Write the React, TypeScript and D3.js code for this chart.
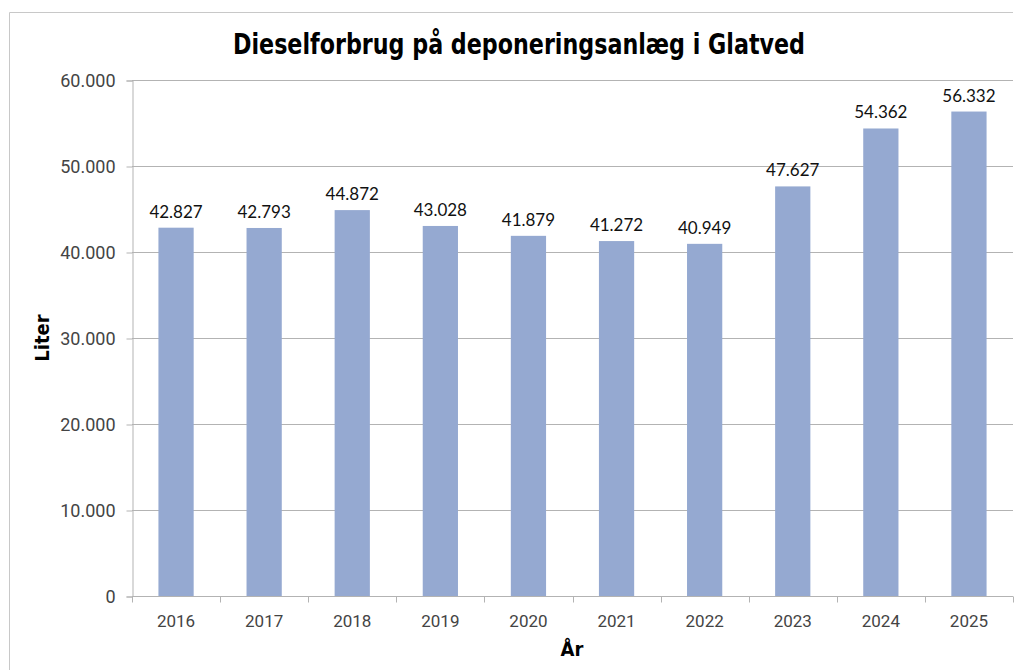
import { useEffect, useRef } from 'react';
import * as d3 from 'd3';

const years = ['2016', '2017', '2018', '2019', '2020', '2021', '2022', '2023', '2024', '2025'];
const liters = [42827, 42793, 44872, 43028, 41879, 41272, 40949, 47627, 54362, 56332];
const yTicks = [0, 10000, 20000, 30000, 40000, 50000, 60000];

const title = 'Dieselforbrug på deponeringsanlæg i Glatved';
const yTitle = 'Liter';
const xTitle = 'År';

const width = 1017;
const height = 670;
const margin = { top: 80, right: 4, bottom: 74, left: 132 };

// danish thousands separator
const fmt = (v: number) => d3.format(',')(v).replace(/,/g, '.');

const App = () => {
  const ref = useRef<SVGSVGElement>(null);

  useEffect(() => {
    const svg = d3.select(ref.current);
    svg.selectAll('*').remove();

    const x = d3
      .scaleBand()
      .domain(years)
      .range([margin.left, width - margin.right])
      .paddingInner(0.6)
      .paddingOuter(0.3);
    const y = d3
      .scaleLinear()
      .domain([0, 60000])
      .range([height - margin.bottom, margin.top]);

    const grey = '#b3b3b3';

    // outer frame (left + top only, image is cropped on the right)
    svg
      .append('path')
      .attr('d', `M9.5,${height} V12.5 H1013`)
      .attr('fill', 'none')
      .attr('stroke', '#c8c8c8');

    // gridlines
    svg
      .append('g')
      .selectAll('line')
      .data(yTicks.filter((t) => t > 0))
      .join('line')
      .attr('x1', margin.left)
      .attr('x2', width - margin.right)
      .attr('y1', (d) => Math.round(y(d)) + 0.5)
      .attr('y2', (d) => Math.round(y(d)) + 0.5)
      .attr('stroke', grey);

    // y axis
    const yAxis = svg
      .append('g')
      .attr('transform', `translate(${margin.left + 0.5},0.5)`)
      .call(d3.axisLeft(y).tickValues(yTicks).tickFormat((d) => fmt(+d)).tickSize(6).tickPadding(11));
    yAxis.select('.domain').attr('stroke', grey);
    yAxis.selectAll('.tick line').attr('stroke', grey);
    yAxis
      .selectAll('.tick text')
      .attr('fill', '#444')
      .attr('font-family', 'Roboto, sans-serif')
      .attr('font-size', 18);

    // x axis with ticks at category boundaries
    const baseY = Math.round(y(0)) + 0.5;
    svg
      .append('line')
      .attr('x1', margin.left)
      .attr('x2', width - margin.right)
      .attr('y1', baseY)
      .attr('y2', baseY)
      .attr('stroke', grey);
    const step = x.step();
    const start = x(years[0])! - x.paddingOuter() * step;
    svg
      .append('g')
      .selectAll('line')
      .data(d3.range(years.length + 1))
      .join('line')
      .attr('x1', (i) => Math.round(start + i * step) + 0.5)
      .attr('x2', (i) => Math.round(start + i * step) + 0.5)
      .attr('y1', baseY)
      .attr('y2', baseY + 6)
      .attr('stroke', grey);
    svg
      .append('g')
      .selectAll('text')
      .data(years)
      .join('text')
      .attr('x', (d) => x(d)! + x.bandwidth() / 2)
      .attr('y', baseY + 30)
      .attr('text-anchor', 'middle')
      .attr('fill', '#444')
      .attr('font-family', 'Roboto, sans-serif')
      .attr('font-size', 17)
      .text((d) => d);

    // bars
    svg
      .append('g')
      .selectAll('rect')
      .data(liters)
      .join('rect')
      .attr('x', (_, i) => x(years[i])!)
      .attr('y', (d) => y(d))
      .attr('width', x.bandwidth())
      .attr('height', (d) => y(0) - y(d))
      .attr('fill', '#95a9d1');

    // value labels
    svg
      .append('g')
      .selectAll('text')
      .data(liters)
      .join('text')
      .attr('x', (_, i) => x(years[i])! + x.bandwidth() / 2)
      .attr('y', (d) => y(d) - 10)
      .attr('text-anchor', 'middle')
      .attr('fill', '#111')
      .attr('font-family', 'Lato, sans-serif')
      .attr('font-size', 17)
      .text((d) => fmt(d));

    // titles
    svg
      .append('text')
      .attr('x', 519)
      .attr('y', 54)
      .attr('text-anchor', 'middle')
      .attr('font-family', '"DejaVu Sans Condensed", "DejaVu Sans", sans-serif')
      .attr('font-stretch', 'condensed')
      .attr('font-weight', 'bold')
      .attr('font-size', 29)
      .attr('textLength', 572)
      .attr('lengthAdjust', 'spacingAndGlyphs')
      .attr('fill', '#000')
      .text(title);

    svg
      .append('text')
      .attr('transform', 'translate(49,338) rotate(-90)')
      .attr('text-anchor', 'middle')
      .attr('font-family', '"DejaVu Sans Condensed", "DejaVu Sans", sans-serif')
      .attr('font-stretch', 'condensed')
      .attr('font-weight', 'bold')
      .attr('font-size', 20)
      .attr('fill', '#000')
      .text(yTitle);

    svg
      .append('text')
      .attr('x', 572)
      .attr('y', 656)
      .attr('text-anchor', 'middle')
      .attr('font-family', '"DejaVu Sans Condensed", "DejaVu Sans", sans-serif')
      .attr('font-stretch', 'condensed')
      .attr('font-weight', 'bold')
      .attr('font-size', 20)
      .attr('fill', '#000')
      .text(xTitle);
  }, []);

  return (
    <div style={{ position: 'absolute', left: 0, top: 0 }}>
      <svg ref={ref} width={width} height={height} style={{ display: 'block', background: '#fff' }} />
    </div>
  );
};

export default App;
